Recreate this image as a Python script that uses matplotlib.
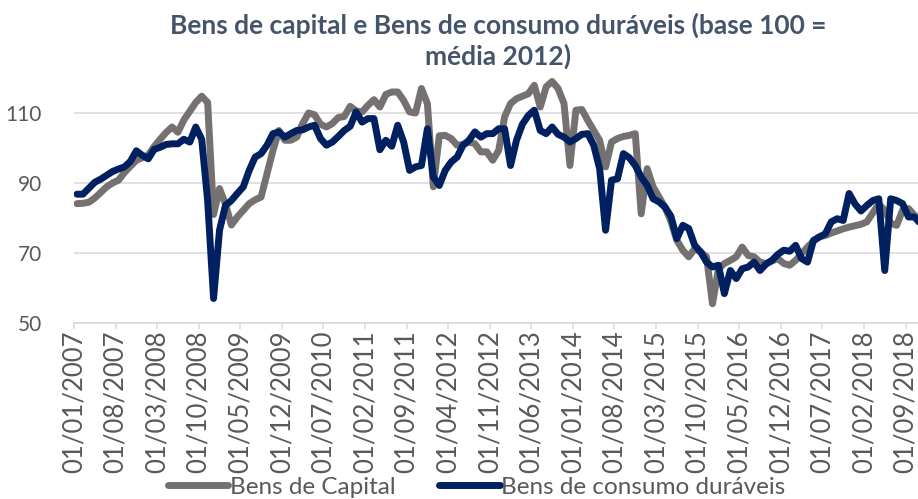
import numpy as np
import matplotlib
matplotlib.use('Agg')
import matplotlib.pyplot as plt

plt.rcParams['font.family'] = ['Lato', 'DejaVu Sans']

# monthly series, Jan 2007 .. Nov 2018 (base 100 = 2012 average)
bens_capital = [
    84.1, 84.2, 84.5, 85.7, 87.3, 88.9, 90.0, 90.8, 93.0, 94.8, 96.5, 97.2,
    98.0, 100.4, 102.5, 104.4, 106.0, 104.5, 108.0, 110.5, 113.0, 114.8, 113.0, 81.0,
    88.4, 84.0, 78.0, 80.3, 82.2, 84.1, 85.2, 86.0, 92.7, 99.3, 105.0, 102.2,
    102.2, 103.1, 107.0, 110.0, 109.5, 106.8, 106.0, 107.0, 108.7, 109.0, 111.9, 110.6,
    110.3, 112.2, 113.8, 111.7, 115.3, 116.0, 116.0, 113.6, 110.3, 110.0, 117.0, 112.7,
    88.9, 103.5, 103.6, 102.7, 100.8, 101.0, 101.7, 101.2, 98.9, 98.9, 96.5, 99.3,
    108.9, 112.7, 114.1, 114.8, 115.5, 117.9, 111.7, 117.5, 119.0, 117.0, 112.7, 95.0,
    110.8, 111.0, 107.9, 105.0, 102.2, 94.6, 101.7, 102.7, 103.3, 103.6, 104.1, 81.2,
    94.1, 88.9, 86.0, 83.1, 79.0, 73.6, 70.8, 68.9, 71.2, 70.3, 68.9, 55.5,
    65.5, 67.0, 67.9, 68.9, 71.7, 69.3, 68.9, 67.4, 67.0, 67.7, 68.4, 67.0,
    66.5, 67.9, 69.8, 71.7, 73.4, 74.6, 75.0, 75.7, 76.3, 76.9, 77.4, 77.8,
    78.2, 78.9, 81.5, 84.0, 82.2, 78.5, 77.9, 82.2, 82.7, 80.8, 79.3,
]
bens_duraveis = [
    86.8, 86.8, 88.5, 90.2, 91.1, 92.2, 93.3, 94.0, 94.6, 96.2, 99.2, 97.9,
    96.9, 99.6, 100.2, 101.0, 101.2, 101.2, 102.5, 101.7, 106.0, 102.5, 85.0, 57.0,
    76.5, 83.6, 85.0, 87.0, 88.9, 93.6, 97.4, 98.4, 100.8, 104.1, 104.6, 103.1,
    104.1, 105.0, 105.2, 106.0, 106.5, 102.7, 100.8, 101.7, 103.3, 105.0, 106.2, 110.3,
    107.4, 108.4, 108.4, 99.5, 102.2, 100.5, 106.5, 101.7, 93.6, 94.6, 95.0, 105.5,
    91.7, 89.3, 93.6, 96.0, 97.4, 100.8, 102.2, 104.6, 103.1, 104.1, 104.1, 105.5,
    105.5, 95.0, 102.2, 106.8, 109.3, 110.8, 105.0, 104.1, 106.0, 103.9, 103.1, 101.7,
    102.7, 103.9, 104.1, 100.8, 94.1, 76.5, 90.8, 91.2, 98.4, 97.2, 95.0, 91.7,
    89.3, 85.5, 84.6, 83.1, 80.5, 74.1, 77.9, 77.0, 72.2, 70.3, 67.4, 66.0,
    66.5, 58.4, 65.0, 62.7, 65.5, 66.0, 67.4, 65.0, 66.8, 67.9, 69.6, 70.8,
    70.5, 72.2, 68.4, 67.4, 73.6, 74.6, 75.5, 78.9, 79.8, 79.3, 87.0, 84.0,
    82.0, 83.6, 85.0, 85.5, 65.0, 85.5, 85.0, 84.1, 80.3, 80.3, 78.4,
]
tick_labels = [
    '01/01/2007', '01/08/2007', '01/03/2008', '01/10/2008', '01/05/2009',
    '01/12/2009', '01/07/2010', '01/02/2011', '01/09/2011', '01/04/2012',
    '01/11/2012', '01/06/2013', '01/01/2014', '01/08/2014', '01/03/2015',
    '01/10/2015', '01/05/2016', '01/12/2016', '01/07/2017', '01/02/2018',
    '01/09/2018',
]

x = np.arange(len(bens_capital)) + 0.5

fig = plt.figure(figsize=(9.18, 4.99), dpi=100)
ax = fig.add_axes([0.0806, 0.3527, 0.9194, 0.4910])

ax.plot(x, bens_capital, color='#767171', lw=5, solid_joinstyle='round',
        solid_capstyle='round', label='Bens de Capital')
ax.plot(x, bens_duraveis, color='#002060', lw=5, solid_joinstyle='round',
        solid_capstyle='round', label='Bens de consumo duráveis')

ax.set_ylim(50, 120)
ax.set_xlim(0, 142.1)
ax.set_yticks([50, 70, 90, 110])
ax.set_xticks(np.arange(len(tick_labels)) * 7)
ax.set_xticklabels(tick_labels, rotation=90)

ax.grid(axis='y', color='#d9d9d9', lw=1.1)
ax.set_axisbelow(True)
for s in ['top', 'right', 'left']:
    ax.spines[s].set_visible(False)
ax.spines['bottom'].set_color('#d9d9d9')
ax.spines['bottom'].set_linewidth(1.1)

ax.tick_params(axis='y', length=0, pad=23, labelsize=15, labelcolor='#595959')
ax.tick_params(axis='x', length=4.5, width=1.1, color='#d9d9d9', pad=1,
               labelsize=18.5, labelcolor='#595959')

fig.text(0.543, 0.918, 'Bens de capital e Bens de consumo duráveis (base 100 =\nmédia 2012)',
         ha='center', va='center', fontsize=19, fontweight='bold', color='#44546A',
         linespacing=1.3)

fig.legend(loc='center', bbox_to_anchor=(0.519, 0.024), ncol=2, frameon=False,
           fontsize=17.5, labelcolor='#595959', handlelength=2.5,
           handletextpad=0.05, columnspacing=1.8)

fig.savefig('out.png', dpi=100)
